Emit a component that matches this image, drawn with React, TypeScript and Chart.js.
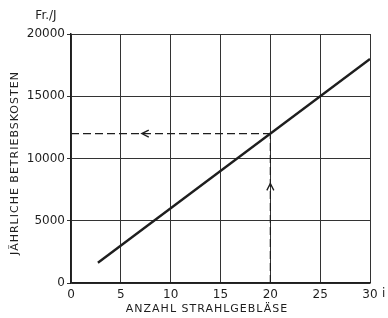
import React, { useEffect, useRef } from "react";
import { Chart, registerables } from "chart.js";

Chart.register(...registerables);

const xTicks = [0, 5, 10, 15, 20, 25, 30];
const yTicks = [0, 5000, 10000, 15000, 20000];
const costLineX = [2.7, 30];
const costLineY = [1620, 18000];
const readX = [0, 20];
const readY = [12000, 12000];
const readVertX = [20, 20];
const readVertY = [0, 12000];
// arrow heads: [x, y, direction]
const arrowX = [7.1, 20];
const arrowY = [12000, 8000];
const arrowDir = ["left", "up"];

const ink = "#1e1e1e";
const FONT = "DejaVu Sans";

const textPlugin = {
  id: "annot",
  afterDraw(chart: any) {
    const ctx = chart.ctx as CanvasRenderingContext2D;
    const xs = chart.scales.x;
    const ys = chart.scales.y;
    const area = chart.chartArea;
    ctx.save();
    // arrows
    ctx.strokeStyle = ink;
    ctx.lineWidth = 1.3;
    for (let i = 0; i < arrowX.length; i++) {
      const px = xs.getPixelForValue(arrowX[i]);
      const py = ys.getPixelForValue(arrowY[i]);
      ctx.beginPath();
      if (arrowDir[i] === "left") {
        ctx.moveTo(px + 7, py - 3.5);
        ctx.lineTo(px, py);
        ctx.lineTo(px + 7, py + 3.5);
      } else {
        ctx.moveTo(px - 3.5, py + 7);
        ctx.lineTo(px, py);
        ctx.lineTo(px + 3.5, py + 7);
      }
      ctx.stroke();
    }
    ctx.fillStyle = ink;
    // "i" after last x tick
    ctx.font = `12px "${FONT}"`;
    ctx.textAlign = "left";
    ctx.textBaseline = "middle";
    ctx.fillText("i", xs.getPixelForValue(30) + 12, area.bottom + 11);
    // unit label
    ctx.font = `12px "${FONT}"`;
    ctx.textAlign = "center";
    ctx.fillText("Fr./J", 46, 16);
    // axis titles
    (ctx as any).letterSpacing = "1px";
    ctx.font = `11px "${FONT}"`;
    ctx.fillText("ANZAHL STRAHLGEBLÄSE", 207, 309);
    ctx.translate(15, 163);
    ctx.rotate(-Math.PI / 2);
    ctx.fillText("JÄHRLICHE BETRIEBSKOSTEN", 0, 0);
    ctx.restore();
  },
};

export default function App() {
  const ref = useRef<HTMLCanvasElement>(null);
  useEffect(() => {
    if (!ref.current) return;
    const chart = new Chart(ref.current, {
      type: "scatter",
      data: {
        datasets: [
          {
            data: costLineX.map((x, i) => ({ x, y: costLineY[i] })),
            showLine: true,
            borderColor: ink,
            borderWidth: 2.4,
            pointRadius: 0,
          },
          {
            data: readX.map((x, i) => ({ x, y: readY[i] })),
            showLine: true,
            borderColor: ink,
            borderWidth: 1.2,
            borderDash: [8, 4],
            pointRadius: 0,
          },
          {
            data: readVertX.map((x, i) => ({ x, y: readVertY[i] })),
            showLine: true,
            borderColor: ink,
            borderWidth: 1.2,
            borderDash: [8, 4],
            pointRadius: 0,
          },
        ],
      },
      options: {
        animation: false,
        responsive: true,
        maintainAspectRatio: false,
        layout: { padding: { left: 0, right: 18, top: 34, bottom: 0 } },
        plugins: { legend: { display: false }, tooltip: { enabled: false } },
        scales: {
          x: {
            type: "linear",
            min: 0,
            max: 30,
            afterFit: (s: any) => {
              s.height = 35;
            },
            afterBuildTicks: (s: any) => {
              s.ticks = xTicks.map((v) => ({ value: v }));
            },
            border: { color: ink, width: 1.5 },
            grid: { color: "#333", lineWidth: 1, drawTicks: false },
            ticks: {
              color: ink,
              padding: 5,
              font: { family: FONT, size: 12 },
              maxRotation: 0,
            },
          },
          y: {
            min: 0,
            max: 20000,
            afterFit: (s: any) => {
              s.width = 71;
            },
            afterBuildTicks: (s: any) => {
              s.ticks = yTicks.map((v) => ({ value: v }));
            },
            border: { color: ink, width: 1.5 },
            grid: { color: "#333", lineWidth: 1, tickLength: 4 },
            ticks: {
              color: ink,
              padding: 2,
              font: { family: FONT, size: 12 },
              callback: (v: any) => String(v),
            },
          },
        },
      },
      plugins: [textPlugin],
    });
    return () => chart.destroy();
  }, []);
  return (
    <div style={{ position: "fixed", left: 0, top: 0, width: 388, height: 318, background: "#fff" }}>
      <canvas ref={ref} />
    </div>
  );
}
